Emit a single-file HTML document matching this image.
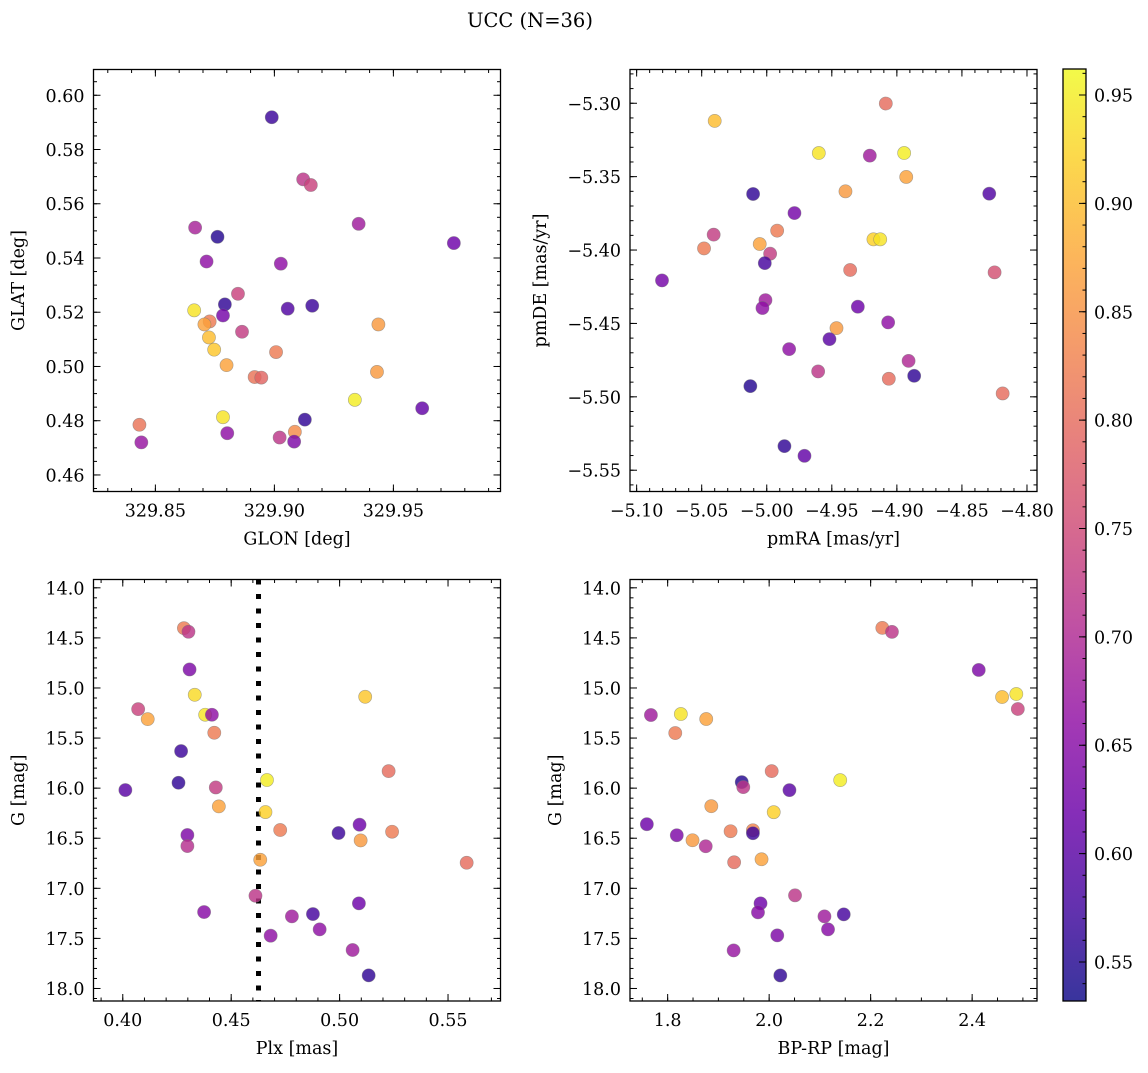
<!DOCTYPE html>
<html><head><meta charset="utf-8"><style>
html,body{margin:0;padding:0;background:#fff;}
svg text{font-family:"DejaVu Serif","Liberation Serif",serif;fill:#000;}
</style></head>
<body>
<svg id="fig" width="1148" height="1068" viewBox="0 0 1148 1068" xmlns="http://www.w3.org/2000/svg">
<text x="530" y="27" font-size="19.5" text-anchor="middle">UCC (N=36)</text>
</svg>
<script>
// Panel 1: GLON vs GLAT
const p1Glon=[329.8989,329.9121,329.9153,329.9354,329.9754,329.8667,329.8761,329.8715,329.9027,329.8847,329.8792,329.8663,329.8784,329.9056,329.9159,329.8728,329.8706,329.8864,329.8725,329.9437,329.8747,329.9007,329.8799,329.8917,329.8945,329.9431,329.9338,329.9621,329.8784,329.9128,329.8802,329.9086,329.9022,329.9083,329.8433,329.8441];
const p1Glat=[0.5919,0.5690,0.5669,0.5526,0.5455,0.5512,0.5478,0.5387,0.5379,0.5268,0.5229,0.5207,0.5188,0.5213,0.5224,0.5166,0.5155,0.5128,0.5107,0.5155,0.5062,0.5053,0.5005,0.4961,0.4959,0.4980,0.4877,0.4846,0.4813,0.4804,0.4754,0.4759,0.4738,0.4723,0.4785,0.4720];
const p1Prob=[0.57,0.72,0.74,0.68,0.62,0.69,0.55,0.66,0.66,0.74,0.56,0.94,0.63,0.59,0.57,0.82,0.87,0.73,0.90,0.86,0.91,0.82,0.87,0.81,0.79,0.86,0.95,0.61,0.94,0.56,0.66,0.84,0.72,0.64,0.81,0.67];
// Panel 2: pmRA vs pmDE
const p2Pmra=[-4.9085,-5.04,-4.96,-4.9208,-4.8944,-4.8928,-4.9395,-5.0105,-4.829,-4.9787,-5.0408,-4.992,-5.0482,-5.0054,-4.9974,-4.918,-4.9128,-5.0015,-5.0805,-4.9359,-4.8249,-5.001,-5.0033,-4.93,-4.9464,-4.9067,-4.9518,-4.9828,-4.9605,-4.891,-4.9062,-4.8867,-5.0126,-4.8187,-4.9864,-4.971];
const p2Pmde=[-5.3002,-5.312,-5.3339,-5.3357,-5.3339,-5.3502,-5.36,-5.3618,-5.3616,-5.3748,-5.3895,-5.3868,-5.3989,-5.3959,-5.4025,-5.3927,-5.3927,-5.4089,-5.4207,-5.4136,-5.4152,-5.4341,-5.4395,-5.4386,-5.4532,-5.4493,-5.4607,-5.4675,-5.4827,-5.4755,-5.4877,-5.4857,-5.4927,-5.4977,-5.5336,-5.5402];
const p2Prob=[0.80,0.90,0.94,0.68,0.95,0.87,0.86,0.56,0.59,0.63,0.73,0.82,0.82,0.87,0.73,0.92,0.94,0.58,0.63,0.80,0.76,0.68,0.66,0.62,0.86,0.66,0.60,0.66,0.72,0.70,0.80,0.56,0.55,0.80,0.56,0.61];
// Panel 3: Plx vs G
const p3Plx=[0.4282,0.4303,0.4308,0.4332,0.5118,0.4071,0.4115,0.438,0.4411,0.4422,0.4269,0.5226,0.4665,0.4257,0.4429,0.4012,0.4443,0.4658,0.4298,0.4298,0.4726,0.4995,0.5092,0.5097,0.5242,0.4634,0.5586,0.4612,0.4375,0.5089,0.478,0.4877,0.4908,0.4682,0.506,0.5134];
const p3G=[14.403,14.439,14.815,15.068,15.088,15.211,15.311,15.267,15.267,15.447,15.630,15.830,15.919,15.946,15.993,16.019,16.182,16.239,16.468,16.578,16.418,16.448,16.365,16.522,16.435,16.715,16.745,17.074,17.237,17.150,17.280,17.257,17.410,17.473,17.616,17.869];
const p3Prob=[0.82,0.72,0.64,0.93,0.91,0.74,0.87,0.94,0.66,0.82,0.57,0.80,0.95,0.56,0.73,0.60,0.87,0.92,0.64,0.71,0.82,0.57,0.62,0.86,0.82,0.87,0.80,0.72,0.65,0.62,0.68,0.58,0.66,0.66,0.68,0.56];
const plxLine=[0.4626];
// Panel 4: BP-RP vs G
const p4Bprp=[2.223,2.242,2.413,2.459,2.487,2.490,1.767,1.826,1.876,1.815,2.005,2.140,1.946,1.949,2.040,1.886,2.009,1.759,1.818,1.849,1.875,1.924,1.968,1.968,1.931,1.985,2.051,1.983,1.978,2.109,2.147,2.116,2.016,1.930,2.022];
const p4G=[14.40,14.44,14.82,15.09,15.06,15.21,15.27,15.26,15.31,15.45,15.83,15.92,15.94,15.99,16.02,16.18,16.24,16.36,16.47,16.52,16.58,16.43,16.42,16.45,16.74,16.71,17.07,17.15,17.24,17.28,17.26,17.41,17.47,17.62,17.87];
const p4Prob=[0.82,0.72,0.64,0.90,0.94,0.74,0.68,0.94,0.87,0.82,0.80,0.95,0.55,0.72,0.60,0.86,0.92,0.62,0.64,0.86,0.70,0.82,0.83,0.57,0.80,0.87,0.72,0.62,0.65,0.68,0.58,0.65,0.64,0.67,0.56];
// Colorbar
const cbTicks=[0.55,0.60,0.65,0.70,0.75,0.80,0.85,0.90,0.95];
const cbRange=[0.532,0.962];

const NS="http://www.w3.org/2000/svg";
const svg=document.getElementById('fig');
const plasma=[[13,8,135],[65,4,157],[106,0,168],[143,13,164],[177,42,144],[204,71,120],[225,100,98],[242,132,75],[252,166,54],[252,206,37],[240,249,33]];
function cmap(t){t=Math.max(0,Math.min(1,t));const f=t*10,i=Math.min(9,Math.floor(f)),r=f-i;const a=plasma[i],b=plasma[i+1];return 'rgb('+[0,1,2].map(k=>Math.round(a[k]+(b[k]-a[k])*r)).join(',')+')';}
function mk(tag,attrs,parent){const e=document.createElementNS(NS,tag);for(const k in attrs)e.setAttribute(k,attrs[k]);(parent||svg).appendChild(e);return e;}
function fmt(v,d){const s=Math.abs(v).toFixed(d);return (v<-1e-9?'\u2212':'')+s;}
const FS=17.5;

function drawPanel(c){
  const g=mk('g',{});
  
  
  const sx=v=>c.x0+(v-c.xr[0])/(c.xr[1]-c.xr[0])*(c.x1-c.x0);
  const sy=c.inv?(v=>c.y0+(v-c.yr[0])/(c.yr[1]-c.yr[0])*(c.y1-c.y0)):(v=>c.y1-(v-c.yr[0])/(c.yr[1]-c.yr[0])*(c.y1-c.y0));
  const lo=(r)=>Math.min(r[0],r[1]),hi=(r)=>Math.max(r[0],r[1]);
  const tk=mk('g',{stroke:'#000','stroke-width':1},g);
  
  
  for(let k=Math.ceil(lo(c.xr)/c.xmin-1e-6);k*c.xmin<=hi(c.xr)+1e-9;k++){const x=sx(k*c.xmin);
    mk('line',{x1:x,x2:x,y1:c.y1,y2:c.y1-3.5},tk);mk('line',{x1:x,x2:x,y1:c.y0,y2:c.y0+3.5},tk);}
  for(let k=Math.ceil(lo(c.yr)/c.ymin-1e-6);k*c.ymin<=hi(c.yr)+1e-9;k++){const y=sy(k*c.ymin);
    mk('line',{x1:c.x0,x2:c.x0+3.5,y1:y,y2:y},tk);mk('line',{x1:c.x1,x2:c.x1-3.5,y1:y,y2:y},tk);}
  c.xmaj.forEach(v=>{const x=sx(v);
    mk('line',{x1:x,x2:x,y1:c.y1,y2:c.y1-7},tk);mk('line',{x1:x,x2:x,y1:c.y0,y2:c.y0+7},tk);
    const t=mk('text',{x:x,y:c.y1+25,'font-size':FS,'text-anchor':'middle'},g);t.textContent=fmt(v,c.xd);
    
    });
  c.ymaj.forEach(v=>{const y=sy(v);
    mk('line',{x1:c.x0,x2:c.x0+7,y1:y,y2:y},tk);mk('line',{x1:c.x1,x2:c.x1-7,y1:y,y2:y},tk);
    const t=mk('text',{x:c.x0-9,y:y+6.5,'font-size':FS,'text-anchor':'end'},g);t.textContent=fmt(v,c.yd);
    
    });
  if(c.vline){c.vline.forEach(v=>{const l=mk('line',{x1:sx(v),x2:sx(v),y1:c.y0,y2:c.y1,stroke:'#000','stroke-width':5,'stroke-dasharray':'5 9.5'},g);
    
    });}
  const pts=mk('g',{},g);
  
  
  for(let i=0;i<c.xs.length;i++){
    const x=sx(c.xs[i]),y=sy(c.ys[i]);
    if(x<c.x0||x>c.x1||y<c.y0||y>c.y1)continue;
    const col=cmap((c.ps[i]-cbRange[0])/(cbRange[1]-cbRange[0]));
    const p=mk('circle',{cx:x,cy:y,r:6.6,fill:col,'fill-opacity':0.82,stroke:'#777','stroke-opacity':0.6,'stroke-width':0.6},pts);
    
    
  }
  const fr=mk('rect',{x:c.x0,y:c.y0,width:c.x1-c.x0,height:c.y1-c.y0,fill:'none',stroke:'#000','stroke-width':1.3},g);
  
  
  const xl=mk('text',{x:(c.x0+c.x1)/2,y:c.y1+53,'font-size':FS,'text-anchor':'middle'},g);xl.textContent=c.xlabel;
  
  
  const yc=(c.y0+c.y1)/2;
  const yl=mk('text',{x:c.ylx,y:yc,'font-size':FS,'text-anchor':'middle',transform:'rotate(-90 '+c.ylx+' '+yc+')'},g);yl.textContent=c.ylabel;
  
  
}
drawPanel({name:'glon-glat-panel',x0:93.5,x1:500.5,y0:69.5,y1:491.5,xr:[329.824,329.995],yr:[0.4539,0.6095],
  xmaj:[329.85,329.90,329.95],xmin:0.01,xd:2,ymaj:[0.46,0.48,0.50,0.52,0.54,0.56,0.58,0.60],ymin:0.005,yd:2,
  xlabel:'GLON [deg]',ylabel:'GLAT [deg]',ylx:24,xs:p1Glon,ys:p1Glat,ps:p1Prob});
drawPanel({name:'pm-panel',x0:630,x1:1037,y0:69.5,y1:491.5,xr:[-5.1051,-4.7923],yr:[-5.5645,-5.277],
  xmaj:[-5.10,-5.05,-5.00,-4.95,-4.90,-4.85,-4.80],xmin:0.01,xd:2,ymaj:[-5.55,-5.50,-5.45,-5.40,-5.35,-5.30],ymin:0.01,yd:2,
  xlabel:'pmRA [mas/yr]',ylabel:'pmDE [mas/yr]',ylx:546,xs:p2Pmra,ys:p2Pmde,ps:p2Prob});
drawPanel({name:'plx-g-panel',x0:93.5,x1:500.5,y0:579.5,y1:1001,xr:[0.3865,0.5742],yr:[13.917,18.125],inv:true,
  xmaj:[0.40,0.45,0.50,0.55],xmin:0.01,xd:2,ymaj:[14,14.5,15,15.5,16,16.5,17,17.5,18],ymin:0.1,yd:1,
  xlabel:'Plx [mas]',ylabel:'G [mag]',ylx:24,xs:p3Plx,ys:p3G,ps:p3Prob,vline:plxLine});
drawPanel({name:'cmd-panel',x0:630,x1:1037,y0:579.5,y1:1001,xr:[1.7258,2.5278],yr:[13.917,18.125],inv:true,
  xmaj:[1.8,2.0,2.2,2.4],xmin:0.05,xd:1,ymaj:[14,14.5,15,15.5,16,16.5,17,17.5,18],ymin:0.1,yd:1,
  xlabel:'BP-RP [mag]',ylabel:'G [mag]',ylx:561,xs:p4Bprp,ys:p4G,ps:p4Prob});

// colorbar
(function(){
  const x0=1063,x1=1086,y0=69,y1=1001;
  const defs=mk('defs',{});
  const lg=mk('linearGradient',{id:'plasmaGrad',x1:0,y1:1,x2:0,y2:0},defs);
  plasma.forEach((c,i)=>mk('stop',{offset:(i/10),'stop-color':'rgb('+c.join(',')+')'},lg));
  const g=mk('g',{});
  
  
  mk('rect',{x:x0,y:y0,width:x1-x0,height:y1-y0,fill:'url(#plasmaGrad)','fill-opacity':0.82},g);
  const sy=v=>y1-(v-cbRange[0])/(cbRange[1]-cbRange[0])*(y1-y0);
  for(let k=Math.ceil(cbRange[0]/0.01);k*0.01<=cbRange[1];k++){const y=sy(k*0.01);mk('line',{x1:x1,x2:x1-3.5,y1:y,y2:y,stroke:'#000','stroke-width':1},g);}
  cbTicks.forEach(v=>{const y=sy(v);mk('line',{x1:x1,x2:x1-7,y1:y,y2:y,stroke:'#000','stroke-width':1},g);
    const t=mk('text',{x:x1+8,y:y+6.5,'font-size':FS},g);t.textContent=v.toFixed(2);
    
    });
  mk('rect',{x:x0,y:y0,width:x1-x0,height:y1-y0,fill:'none',stroke:'#000','stroke-width':1.3},g);
})();
</script>
</body></html>
